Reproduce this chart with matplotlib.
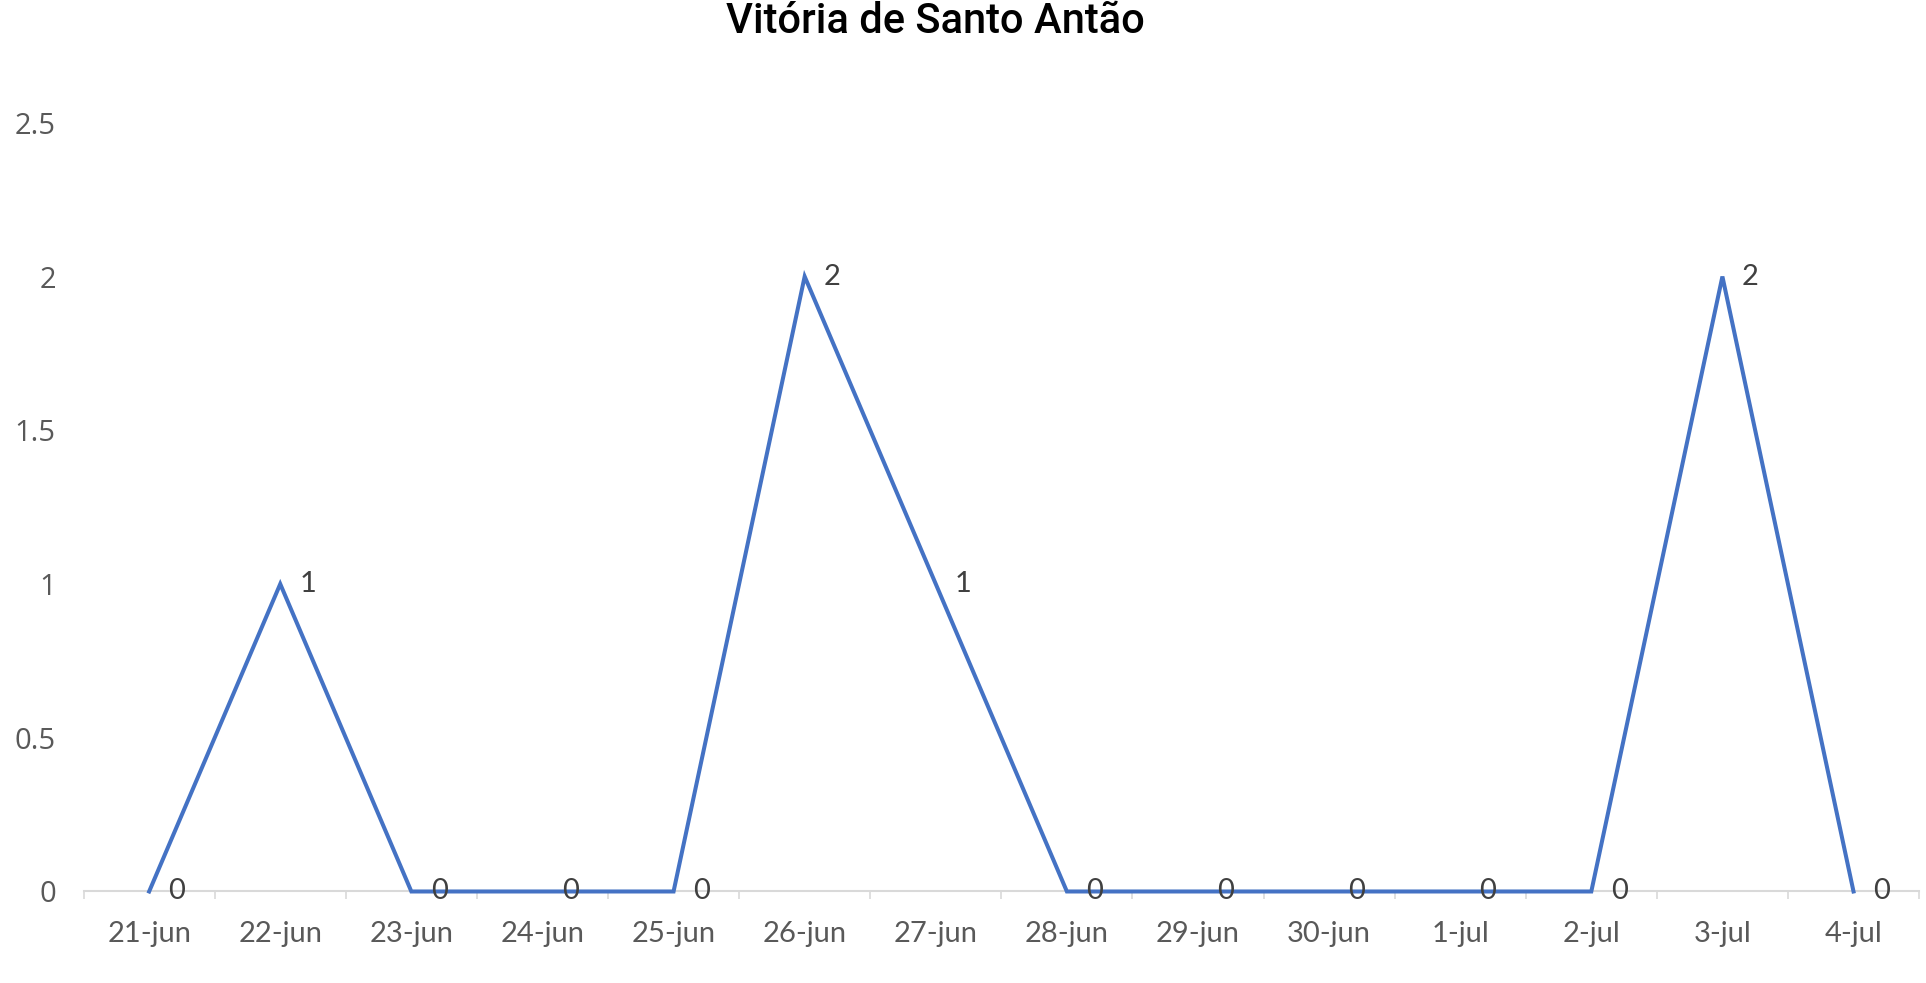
import matplotlib
matplotlib.use("Agg")
import matplotlib.pyplot as plt
import numpy as np

DATES = ["21-jun", "22-jun", "23-jun", "24-jun", "25-jun", "26-jun", "27-jun",
         "28-jun", "29-jun", "30-jun", "1-jul", "2-jul", "3-jul", "4-jul"]
CASES = [0, 1, 0, 0, 0, 2, 1, 0, 0, 0, 0, 0, 2, 0]
Y_TICKS = [0, 0.5, 1, 1.5, 2, 2.5]
Y_TICK_LABELS = ["0", "0.5", "1", "1.5", "2", "2.5"]
TITLE = "Vitória de Santo Antão"

LINE_COLOR = "#4472C4"
AXIS_COLOR = "#D9D9D9"
TICK_TEXT = "#595959"
LABEL_TEXT = "#404040"


def main():
    fig = plt.figure(figsize=(19.26, 9.83), dpi=100)
    ax = fig.add_axes([0.0434, 0.0931, 0.953, 0.782])

    x = np.arange(len(DATES))
    ax.plot(x, CASES, color=LINE_COLOR, linewidth=2.9, solid_joinstyle="miter",
            clip_on=False, zorder=5)

    # data labels to the right of each point
    for xi, v in zip(x, CASES):
        ax.annotate(f"{v}", (xi, v), xytext=(20, 0), textcoords="offset points",
                    ha="center", va="center", fontsize=21, family="Lato",
                    color=LABEL_TEXT, zorder=6)

    ax.set_xlim(-0.5, len(DATES) - 0.5)
    ax.set_ylim(0, 2.5)

    for s in ["top", "right", "left"]:
        ax.spines[s].set_visible(False)
    ax.spines["bottom"].set_color(AXIS_COLOR)
    ax.spines["bottom"].set_linewidth(1.5)

    # tick marks between categories, labels at category centres
    ax.set_xticks(np.arange(-0.5, len(DATES), 1.0))
    ax.set_xticklabels([])
    ax.tick_params(axis="x", which="major", length=6, width=1.2, color=AXIS_COLOR)
    ax.set_xticks(x, minor=True)
    ax.set_xticklabels(DATES, minor=True, fontsize=21, family="Lato", color=TICK_TEXT)
    ax.tick_params(axis="x", which="minor", length=0, pad=21)

    ax.set_yticks(Y_TICKS)
    ax.set_yticklabels(Y_TICK_LABELS, fontsize=21, family="Open Sans", color=TICK_TEXT)
    ax.tick_params(axis="y", length=0, pad=20)

    fig.text(0.4855, 0.978, TITLE, ha="center", va="center", fontsize=30,
             family="Roboto", fontweight="medium", color="black")

    fig.savefig("out.png", dpi=100)


if __name__ == "__main__":
    main()
